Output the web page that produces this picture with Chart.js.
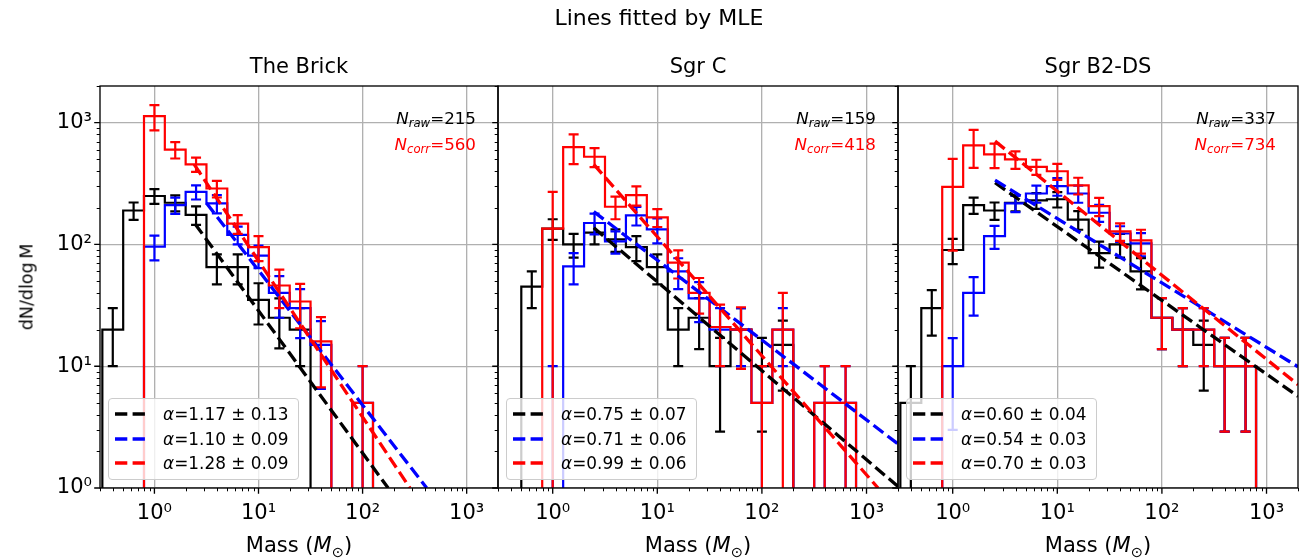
<!DOCTYPE html>
<html>
<head>
<meta charset="utf-8">
<title>Lines fitted by MLE</title>
<script src="https://cdn.jsdelivr.net/npm/chart.js@4.4.1/dist/chart.umd.min.js"></script>
<style>
  html, body { margin: 0; padding: 0; background: #fff; }
  #fig { position: relative; width: 1311px; height: 560px; overflow: hidden;
         font-family: 'DejaVu Sans', sans-serif; color: #000; }
  #fig canvas { position: absolute; left: 0; top: 0; }
  .lbl { position: absolute; white-space: nowrap; line-height: 1.2; }
  .suptitle { font-size: 22px; transform: translate(-50%, -50%); }
  .title { font-size: 21px; transform: translate(-50%, -50%); }
  .axis { font-size: 21px; transform: translate(-50%, -50%); }
  .ylab { font-size: 17.5px; transform: translate(-50%, -50%) rotate(-90deg); }
  .count { font-size: 16.7px; transform: translate(-100%, -50%); }
  sub { font-size: 70%; vertical-align: -0.3em; line-height: 0; }
  .legend { position: absolute; background: rgba(255,255,255,0.8); border: 1.3px solid #cccccc;
            border-radius: 4px; box-sizing: border-box; }
  .legend svg { position: absolute; }
  .legend span { position: absolute; font-size: 16.9px; line-height: 1.2; white-space: nowrap;
                 transform: translateY(-50%); }
</style>
</head>
<body>
<div id="fig">
  <canvas id="c1" width="1311" height="560"></canvas>
  <canvas id="c2" width="1311" height="560"></canvas>
  <canvas id="c3" width="1311" height="560"></canvas>
</div>
<script>
// log-spaced bins, 0.2 dex wide (edges and centres in solar masses)
const binEdges = [0.316, 0.501, 0.794, 1.259, 1.995, 3.162, 5.012, 7.943, 12.59, 19.95,
                  31.62, 50.12, 79.43, 125.9, 199.5, 316.2, 501.2, 794.3];
const binCenters = [0.398, 0.631, 1.0, 1.585, 2.512, 3.981, 6.31, 10.0, 15.85, 25.12,
                    39.81, 63.1, 100.0, 158.5, 251.2, 398.1, 631.0];

// axis ticks
const tickValues = [1, 10, 100, 1000];
const tickLabels = ['10\u2070', '10\u00b9', '10\u00b2', '10\u00b3'];

// The Brick
const brickRaw     = [20, 190, 250, 220, 175, 65, 65, 35, 25, 20, 0, 0, 0, 0, 0, 0, 0];
const brickRawErr  = [10, 31, 35, 33, 30, 18, 18, 13, 11, 10, 0, 0, 0, 0, 0, 0, 0];
const brickBlue    = [0, 0, 96, 210, 270, 217, 120, 81, 40, 30, 15, 0, 5, 0, 0, 0, 0];
const brickBlueErr = [0, 0, 22, 32, 36, 37, 20, 17, 15, 13, 8.5, 0, 5, 0, 0, 0, 0];
const brickCorr    = [0, 0, 1130, 600, 455, 288, 148, 95, 46, 34, 16, 0, 5, 0, 0, 0, 0];
const brickCorrErr = [0, 0, 265, 92, 61, 45, 26, 22, 16, 13.5, 9.3, 0, 5, 0, 0, 0, 0];
const brickFitRaw  = [[2.45, 148], [176, 1]];
const brickFitBlue = [[3.16, 219], [413, 1]];
const brickFitCorr = [[2.41, 454], [285, 1]];
const brickAlphas  = ['1.17 \u00b1 0.13', '1.10 \u00b1 0.09', '1.28 \u00b1 0.09'];

// Sgr C
const sgrcRaw     = [0, 45, 135, 100, 125, 110, 95, 65, 20, 25, 10, 20, 10, 15, 0, 0, 0];
const sgrcRawErr  = [0, 15, 26, 22, 25, 23, 22, 18, 10, 11.2, 7.1, 10, 7.1, 8.7, 0, 0, 0];
const sgrcBlue    = [0, 0, 0, 66, 150, 106, 173, 133, 60, 36, 20, 20, 5, 20, 0, 5, 5];
const sgrcBlueErr = [0, 0, 10, 19, 29, 22, 30, 31, 17, 13, 10, 10, 5, 10, 0, 5, 5];
const sgrcCorr    = [0, 0, 135, 629, 525, 204, 254, 167, 71, 40, 21, 20, 5, 20, 0, 5, 5];
const sgrcCorrErr = [0, 0, 135, 173, 94, 43, 46, 28, 18.5, 13, 11, 10.5, 5, 20, 0, 5, 5];
const sgrcFitRaw  = [[2.47, 137], [2000, 1.03]];
const sgrcFitBlue = [[2.47, 186], [2000, 2.3]];
const sgrcFitCorr = [[2.47, 454], [1290, 1]];
const sgrcAlphas  = ['0.75 \u00b1 0.07', '0.71 \u00b1 0.06', '0.99 \u00b1 0.06'];

// Sgr B2-DS
const sgrb2Raw     = [5, 30, 90, 210, 190, 220, 230, 235, 160, 85, 100, 60, 25, 20, 15, 10, 10];
const sgrb2RawErr  = [5, 12.2, 21, 32, 31, 33, 34, 34, 28, 20.6, 22, 17.3, 11.2, 10, 8.7, 7.1, 7.1];
const sgrb2Blue    = [0, 0, 10, 40, 117, 217, 262, 301, 262, 182, 123, 102, 25, 20, 20, 10, 10];
const sgrb2BlueErr = [0, 0, 7, 14, 25, 33, 42, 50, 42, 29, 18, 22, 11.2, 10, 10, 7.1, 7.1];
const sgrb2Corr    = [0, 0, 297, 650, 548, 499, 434, 399, 305, 206, 128, 108, 25, 20, 20, 10, 10];
const sgrb2CorrErr = [0, 0, 208, 224, 125, 81, 62, 60, 48, 35, 21, 24, 11.2, 10, 10, 7.1, 7.1];
const sgrb2FitRaw  = [[2.54, 321], [2000, 5.66]];
const sgrb2FitBlue = [[2.54, 337], [2000, 9.9]];
const sgrb2FitCorr = [[2.54, 705], [2000, 7.06]];
const sgrb2Alphas  = ['0.60 \u00b1 0.04', '0.54 \u00b1 0.03', '0.70 \u00b1 0.03'];

const panelTitles = ['The Brick', 'Sgr C', 'Sgr B2-DS'];
const nRaw  = [215, 159, 337];
const nCorr = [560, 418, 734];

const colors = ['#000000', '#0000ff', '#ff0000'];   // raw, blue, corrected

const panels = [
  { canvas: 'c1', left: 100, right: 498,
    hist: [[brickRaw, brickRawErr], [brickBlue, brickBlueErr], [brickCorr, brickCorrErr]],
    fits: [brickFitRaw, brickFitBlue, brickFitCorr], alphas: brickAlphas },
  { canvas: 'c2', left: 498, right: 898,
    hist: [[sgrcRaw, sgrcRawErr], [sgrcBlue, sgrcBlueErr], [sgrcCorr, sgrcCorrErr]],
    fits: [sgrcFitRaw, sgrcFitBlue, sgrcFitCorr], alphas: sgrcAlphas },
  { canvas: 'c3', left: 898, right: 1298,
    hist: [[sgrb2Raw, sgrb2RawErr], [sgrb2Blue, sgrb2BlueErr], [sgrb2Corr, sgrb2CorrErr]],
    fits: [sgrb2FitRaw, sgrb2FitBlue, sgrb2FitCorr], alphas: sgrb2Alphas }
];

const PLOT_TOP = 86, PLOT_BOTTOM = 488;
const FLOOR = 0.01;   // empty bins drop below the axis

// step outline: vertical up at first edge, across each bin, down after the last
function histPoints(vals) {
  const pts = [{ x: binEdges[0], y: FLOOR }];
  vals.forEach((v, i) => pts.push({ x: binEdges[i], y: v > 0 ? v : FLOOR }));
  pts.push({ x: binEdges[binEdges.length - 1], y: FLOOR });
  return pts;
}

// minor tick positions for the plugin
const xMinor = [], yMinor = [];
[0.1, 1, 10, 100, 1000].forEach(d => {
  for (let k = 2; k <= 9; k++) {
    const v = +(k * d).toPrecision(3);
    if (v >= 0.3 && v <= 2000) xMinor.push(v);
    if (v >= 1 && v <= 2000) yMinor.push(v);
  }
});

// error bars drawn right after their histogram
const errorBars = {
  id: 'errorBars',
  afterDatasetDraw(chart, args) {
    const ds = chart.data.datasets[args.index];
    if (!ds.errs) return;
    const { ctx, chartArea: a, scales: { x, y } } = chart;
    ctx.save();
    ctx.beginPath();
    ctx.rect(a.left, a.top, a.right - a.left, a.bottom - a.top);
    ctx.clip();
    ctx.strokeStyle = ds.borderColor;
    ctx.lineWidth = 2.2;
    ds.vals.forEach((v, i) => {
      const e = ds.errs[i];
      if (!e) return;
      const px = x.getPixelForValue(binCenters[i]);
      const hi = y.getPixelForValue(v + e);
      const hasLo = v - e > 0.05;
      const lo = hasLo ? y.getPixelForValue(v - e) : a.bottom + 5;
      ctx.beginPath();
      ctx.moveTo(px, lo); ctx.lineTo(px, hi);
      ctx.moveTo(px - 5, hi); ctx.lineTo(px + 5, hi);
      if (hasLo) { ctx.moveTo(px - 5, lo); ctx.lineTo(px + 5, lo); }
      ctx.stroke();
    });
    ctx.restore();
  }
};

// axes frame plus major / minor tick marks pointing outwards
const frameTicks = {
  id: 'frameTicks',
  afterDraw(chart) {
    const { ctx, chartArea: a, scales: { x, y } } = chart;
    ctx.save();
    ctx.strokeStyle = '#000';
    ctx.lineWidth = 1;
    ctx.beginPath();
    xMinor.forEach(v => { const p = Math.round(x.getPixelForValue(v)) + 0.5;
      ctx.moveTo(p, a.bottom); ctx.lineTo(p, a.bottom + 3.3); });
    yMinor.forEach(v => { const p = Math.round(y.getPixelForValue(v)) + 0.5;
      ctx.moveTo(a.left, p); ctx.lineTo(a.left - 3.3, p); });
    ctx.stroke();
    ctx.lineWidth = 1.33;
    ctx.beginPath();
    tickValues.forEach(v => {
      const px = x.getPixelForValue(v), py = y.getPixelForValue(v);
      ctx.moveTo(px, a.bottom); ctx.lineTo(px, a.bottom + 5.8);
      ctx.moveTo(a.left, py); ctx.lineTo(a.left - 5.8, py);
    });
    ctx.stroke();
    ctx.strokeRect(a.left, a.top, a.right - a.left, a.bottom - a.top);
    ctx.restore();
  }
};

const tickFont = { family: 'DejaVu Sans', size: 21 };

panels.forEach((p, idx) => {
  const first = idx === 0;
  const names = ['raw', 'blue', 'corrected'];
  const histSets = p.hist.map(([vals, errs], k) => ({
    label: names[k], data: histPoints(vals), vals, errs,
    borderColor: colors[k], borderWidth: 2.2, stepped: 'before',
    pointRadius: 0, fill: false, clip: 0
  }));
  const fitSets = p.fits.map((pts, k) => ({
    label: '\u03b1=' + p.alphas[k], data: pts.map(q => ({ x: q[0], y: q[1] })),
    borderColor: colors[k], borderWidth: 3.3, borderDash: [12.3, 5.3],
    pointRadius: 0, fill: false, clip: 0
  }));
  // first dataset is drawn on top: fits over histograms, red over blue over black
  const datasets = [...fitSets.reverse(), ...histSets.reverse()];

  new Chart(document.getElementById(p.canvas), {
    type: 'line',
    data: { datasets },
    plugins: [errorBars, frameTicks],
    options: {
      responsive: false, animation: false, devicePixelRatio: 1, events: [],
      layout: { padding: { left: first ? 0 : p.left, right: 1311 - p.right, top: PLOT_TOP, bottom: 0 } },
      plugins: { legend: { display: false }, tooltip: { enabled: false } },
      scales: {
        x: {
          type: 'logarithmic', min: 0.3, max: 2000,
          afterBuildTicks: ax => { ax.ticks = tickValues.map(v => ({ value: v })); },
          afterFit: ax => { ax.height = 560 - PLOT_BOTTOM; },
          grid: { color: '#b0b0b0', lineWidth: 1.33, drawTicks: false },
          border: { display: false },
          ticks: { autoSkip: false, maxRotation: 0, padding: 13, color: '#000', font: tickFont,
                   callback: (v, i) => tickLabels[i] }
        },
        y: {
          type: 'logarithmic', min: 1, max: 2000,
          afterBuildTicks: ax => { ax.ticks = tickValues.map(v => ({ value: v })); },
          afterFit: ax => { ax.width = first ? 100 : 0; },
          grid: { color: '#b0b0b0', lineWidth: 1.33, drawTicks: false },
          border: { display: false },
          ticks: { display: first, padding: 8, color: '#000', font: tickFont,
                   callback: (v, i) => tickLabels[i] }
        }
      }
    }
  });
});

// text: titles, axis labels, counts and legends
const fig = document.getElementById('fig');
function addText(cls, html, x, y, color) {
  const d = document.createElement('div');
  d.className = 'lbl ' + cls;
  d.innerHTML = html;
  d.style.left = x + 'px';
  d.style.top = y + 'px';
  if (color) d.style.color = color;
  fig.appendChild(d);
  return d;
}

addText('suptitle', 'Lines fitted by MLE', 659, 18);
addText('ylab', 'dN/dlog\u2009M', 27, 287);

panels.forEach((p, idx) => {
  const cx = (p.left + p.right) / 2;
  addText('title', panelTitles[idx], cx, 67);
  addText('axis', 'Mass (<i>M</i><sub>\u2299</sub>)', cx, 546);
  addText('count', '<i>N</i><sub><i>raw</i></sub>=' + nRaw[idx], p.right - 22, 118);
  addText('count', '<i>N</i><sub><i>corr</i></sub>=' + nCorr[idx], p.right - 22, 144, colors[2]);

  const box = document.createElement('div');
  box.className = 'legend';
  Object.assign(box.style, { left: (p.left + 8) + 'px', top: '398px', width: '191px', height: '82px' });
  [15, 40, 64].forEach((ry, k) => {
    const svg = document.createElementNS('http://www.w3.org/2000/svg', 'svg');
    svg.setAttribute('width', '34'); svg.setAttribute('height', '6');
    svg.style.left = '6px'; svg.style.top = (ry - 3) + 'px';
    svg.innerHTML = '<line x1="0" y1="3" x2="34" y2="3" stroke="' + colors[k] +
                    '" stroke-width="3.3" stroke-dasharray="12.3 5.3"/>';
    box.appendChild(svg);
    const s = document.createElement('span');
    s.innerHTML = '<i>\u03b1</i>=' + p.alphas[k];
    s.style.left = '54px'; s.style.top = ry + 'px';
    box.appendChild(s);
  });
  fig.appendChild(box);
});
</script>
</body>
</html>
